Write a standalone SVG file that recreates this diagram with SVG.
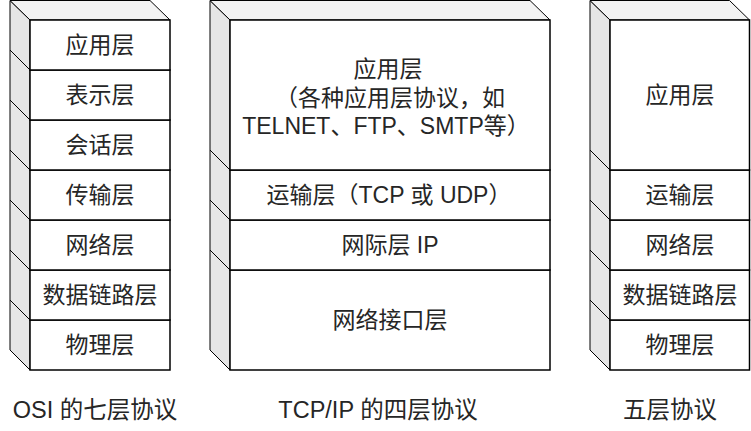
<svg xmlns="http://www.w3.org/2000/svg" width="751" height="431" viewBox="0 0 751 431">
<style>
.front{fill:#ffffff;stroke:#000;stroke-width:1.5}
.top{fill:#f2f2f2;stroke:#000;stroke-width:1}
.side{fill:#e6e6e6;stroke:#000;stroke-width:1}
text{font-family:"Liberation Sans","Noto Sans CJK SC",sans-serif;font-size:23px;fill:#262626;text-anchor:middle;dominant-baseline:central}
.cap{font-size:23.5px}
</style>
<rect width="751" height="431" fill="#ffffff"/>
<!-- OSI stack: front x 30..170 -->
<g id="osi-physical">
<polygon class="side" points="10,300 30,320 30,370 10,350"/>
<polygon class="top" points="10,300 150,300 170,320 30,320"/>
<rect class="front" x="30" y="320" width="140" height="50"/>
<text x="100" y="345">物理层</text>
</g>
<g id="osi-datalink">
<polygon class="side" points="10,250 30,270 30,320 10,300"/>
<polygon class="top" points="10,250 150,250 170,270 30,270"/>
<rect class="front" x="30" y="270" width="140" height="50"/>
<text x="100" y="295">数据链路层</text>
</g>
<g id="osi-network">
<polygon class="side" points="10,200 30,220 30,270 10,250"/>
<polygon class="top" points="10,200 150,200 170,220 30,220"/>
<rect class="front" x="30" y="220" width="140" height="50"/>
<text x="100" y="245">网络层</text>
</g>
<g id="osi-transport">
<polygon class="side" points="10,150 30,170 30,220 10,200"/>
<polygon class="top" points="10,150 150,150 170,170 30,170"/>
<rect class="front" x="30" y="170" width="140" height="50"/>
<text x="100" y="195">传输层</text>
</g>
<g id="osi-session">
<polygon class="side" points="10,100 30,120 30,170 10,150"/>
<polygon class="top" points="10,100 150,100 170,120 30,120"/>
<rect class="front" x="30" y="120" width="140" height="50"/>
<text x="100" y="145">会话层</text>
</g>
<g id="osi-presentation">
<polygon class="side" points="10,50 30,70 30,120 10,100"/>
<polygon class="top" points="10,50 150,50 170,70 30,70"/>
<rect class="front" x="30" y="70" width="140" height="50"/>
<text x="100" y="95">表示层</text>
</g>
<g id="osi-application">
<polygon class="side" points="10,0.5 30,20 30,70 10,50"/>
<polygon class="top" points="10,0.5 150,0.5 170,20 30,20"/>
<rect class="front" x="30" y="20" width="140" height="50"/>
<text x="100" y="45">应用层</text>
</g>
<!-- TCP/IP stack: front x 230..550 -->
<g id="tcpip-netif">
<polygon class="side" points="210,250 230,270 230,370 210,350"/>
<polygon class="top" points="210,250 530,250 550,270 230,270"/>
<rect class="front" x="230" y="270" width="320" height="100"/>
<text x="390" y="320">网络接口层</text>
</g>
<g id="tcpip-internet">
<polygon class="side" points="210,200 230,220 230,270 210,250"/>
<polygon class="top" points="210,200 530,200 550,220 230,220"/>
<rect class="front" x="230" y="220" width="320" height="50"/>
<text x="390" y="245">网际层 IP</text>
</g>
<g id="tcpip-transport">
<polygon class="side" points="210,150 230,170 230,220 210,200"/>
<polygon class="top" points="210,150 530,150 550,170 230,170"/>
<rect class="front" x="230" y="170" width="320" height="50"/>
<text x="389" y="195">运输层（TCP 或 UDP）</text>
</g>
<g id="tcpip-application">
<polygon class="side" points="210,0.5 230,20 230,170 210,150"/>
<polygon class="top" points="210,0.5 530,0.5 550,20 230,20"/>
<rect class="front" x="230" y="20" width="320" height="150"/>
<text x="388" y="69">应用层</text>
<text x="390" y="98">（各种应用层协议，如</text>
<text x="386" y="126">TELNET、FTP、SMTP等）</text>
</g>
<!-- Five-layer stack: front x 610..749.5 -->
<g id="five-physical">
<polygon class="side" points="590,300 610,320 610,370 590,350"/>
<polygon class="top" points="590,300 729.5,300 749.5,320 610,320"/>
<rect class="front" x="610" y="320" width="139.5" height="50"/>
<text x="680" y="345">物理层</text>
</g>
<g id="five-datalink">
<polygon class="side" points="590,250 610,270 610,320 590,300"/>
<polygon class="top" points="590,250 729.5,250 749.5,270 610,270"/>
<rect class="front" x="610" y="270" width="139.5" height="50"/>
<text x="680" y="295">数据链路层</text>
</g>
<g id="five-network">
<polygon class="side" points="590,200 610,220 610,270 590,250"/>
<polygon class="top" points="590,200 729.5,200 749.5,220 610,220"/>
<rect class="front" x="610" y="220" width="139.5" height="50"/>
<text x="680" y="245">网络层</text>
</g>
<g id="five-transport">
<polygon class="side" points="590,150 610,170 610,220 590,200"/>
<polygon class="top" points="590,150 729.5,150 749.5,170 610,170"/>
<rect class="front" x="610" y="170" width="139.5" height="50"/>
<text x="680" y="195">运输层</text>
</g>
<g id="five-application">
<polygon class="side" points="590,0.5 610,20 610,170 590,150"/>
<polygon class="top" points="590,0.5 729.5,0.5 749.5,20 610,20"/>
<rect class="front" x="610" y="20" width="139.5" height="150"/>
<text x="680" y="95">应用层</text>
</g>
<g id="connectors"></g>
<g id="captions">
<text class="cap" x="95" y="410">OSI 的七层协议</text>
<text class="cap" x="378" y="410">TCP/IP 的四层协议</text>
<text class="cap" x="670" y="410">五层协议</text>
</g>
</svg>
